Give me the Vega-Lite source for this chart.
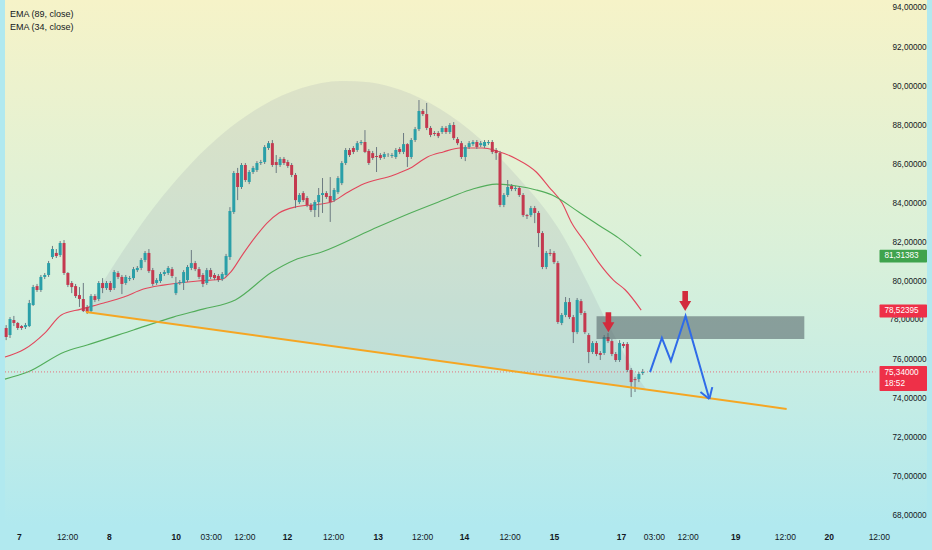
{
  "$schema": "https://vega.github.io/schema/vega-lite/v6.json",
  "width": 932,
  "height": 525,
  "autosize": {"type": "none"},
  "padding": {"left": 0, "top": 0, "right": 0, "bottom": 25},
  "background": "#b1e9ef",
  "view": {"stroke": null},
  "config": {"font": "Liberation Sans, Arial, sans-serif"},
  "datasets": {
    "candles": [
      {"i":0,"o":77.59,"h":77.74,"l":76.97,"c":77.13},{"i":1,"o":77.23,"h":78.15,"l":77.08,"c":78.05},
      {"i":2,"o":78.00,"h":78.21,"l":77.69,"c":77.85},{"i":3,"o":77.85,"h":77.90,"l":77.49,"c":77.59},
      {"i":4,"o":77.69,"h":77.74,"l":77.49,"c":77.59},{"i":5,"o":77.64,"h":77.85,"l":77.54,"c":77.74},
      {"i":6,"o":77.69,"h":79.03,"l":77.64,"c":78.87},{"i":7,"o":78.77,"h":79.80,"l":78.72,"c":79.69},
      {"i":8,"o":79.74,"h":79.85,"l":79.44,"c":79.54},{"i":9,"o":79.54,"h":80.31,"l":79.44,"c":80.21},
      {"i":10,"o":80.21,"h":80.41,"l":80.10,"c":80.31},{"i":11,"o":80.31,"h":81.03,"l":80.21,"c":80.92},
      {"i":12,"o":81.23,"h":81.80,"l":81.13,"c":81.64},{"i":13,"o":81.44,"h":81.64,"l":81.18,"c":81.28},
      {"i":14,"o":81.33,"h":82.05,"l":81.23,"c":81.95},{"i":15,"o":81.95,"h":82.10,"l":80.31,"c":80.41},
      {"i":16,"o":80.41,"h":80.46,"l":79.69,"c":79.80},{"i":17,"o":79.90,"h":80.00,"l":79.38,"c":79.69},
      {"i":18,"o":79.74,"h":79.85,"l":79.13,"c":79.23},{"i":19,"o":79.28,"h":79.69,"l":78.67,"c":79.08},
      {"i":20,"o":79.08,"h":79.90,"l":78.41,"c":78.46},{"i":21,"o":78.67,"h":78.77,"l":78.31,"c":78.41},
      {"i":22,"o":78.46,"h":79.33,"l":78.36,"c":79.23},{"i":23,"o":79.23,"h":79.33,"l":78.92,"c":79.03},
      {"i":24,"o":79.08,"h":80.00,"l":78.97,"c":79.90},{"i":25,"o":79.90,"h":80.15,"l":79.38,"c":79.64},
      {"i":26,"o":79.64,"h":80.00,"l":79.54,"c":79.90},{"i":27,"o":79.90,"h":80.00,"l":79.44,"c":79.54},
      {"i":28,"o":79.64,"h":80.56,"l":79.54,"c":80.46},{"i":29,"o":80.41,"h":80.51,"l":80.10,"c":80.21},
      {"i":30,"o":80.21,"h":80.31,"l":79.33,"c":79.85},{"i":31,"o":79.90,"h":80.31,"l":79.80,"c":80.21},
      {"i":32,"o":80.10,"h":80.26,"l":80.00,"c":80.15},{"i":33,"o":80.15,"h":80.72,"l":80.05,"c":80.61},
      {"i":34,"o":80.56,"h":80.77,"l":80.46,"c":80.67},{"i":35,"o":80.67,"h":81.18,"l":80.56,"c":81.08},
      {"i":36,"o":81.08,"h":81.54,"l":80.97,"c":81.44},{"i":37,"o":81.44,"h":81.64,"l":80.41,"c":80.51},
      {"i":38,"o":80.56,"h":80.67,"l":79.74,"c":79.85},{"i":39,"o":79.90,"h":80.15,"l":79.80,"c":80.05},
      {"i":40,"o":80.00,"h":80.46,"l":79.90,"c":80.36},{"i":41,"o":80.36,"h":80.56,"l":80.26,"c":80.46},
      {"i":42,"o":80.41,"h":80.77,"l":80.31,"c":80.67},{"i":43,"o":80.61,"h":80.72,"l":80.15,"c":80.26},
      {"i":44,"o":79.38,"h":80.21,"l":79.28,"c":79.90},{"i":45,"o":79.90,"h":80.05,"l":79.80,"c":79.95},
      {"i":46,"o":79.90,"h":80.56,"l":79.54,"c":80.46},{"i":47,"o":80.05,"h":80.82,"l":79.95,"c":80.72},
      {"i":48,"o":80.67,"h":81.59,"l":80.56,"c":80.92},{"i":49,"o":80.92,"h":81.03,"l":80.51,"c":80.61},
      {"i":50,"o":80.61,"h":80.72,"l":80.10,"c":80.21},{"i":51,"o":80.31,"h":80.41,"l":79.69,"c":79.85},
      {"i":52,"o":79.90,"h":80.67,"l":79.80,"c":80.56},{"i":53,"o":80.56,"h":80.67,"l":80.10,"c":80.21},
      {"i":54,"o":80.31,"h":80.41,"l":80.05,"c":80.15},{"i":55,"o":80.26,"h":80.36,"l":79.95,"c":80.05},
      {"i":56,"o":80.10,"h":80.46,"l":80.00,"c":80.36},{"i":57,"o":80.31,"h":81.39,"l":80.21,"c":81.28},
      {"i":58,"o":81.23,"h":83.79,"l":81.08,"c":83.59},{"i":59,"o":83.54,"h":85.64,"l":83.44,"c":85.54},
      {"i":60,"o":85.54,"h":85.80,"l":84.15,"c":84.82},{"i":61,"o":84.82,"h":86.05,"l":84.72,"c":85.95},
      {"i":62,"o":85.95,"h":86.05,"l":85.08,"c":85.18},{"i":63,"o":85.08,"h":85.69,"l":84.97,"c":85.59},
      {"i":64,"o":85.59,"h":85.90,"l":85.49,"c":85.80},{"i":65,"o":85.69,"h":86.15,"l":85.59,"c":86.05},
      {"i":66,"o":86.05,"h":86.21,"l":85.95,"c":86.10},{"i":67,"o":86.10,"h":86.97,"l":86.00,"c":86.87},
      {"i":68,"o":86.82,"h":87.18,"l":86.72,"c":87.07},{"i":69,"o":87.07,"h":87.23,"l":85.85,"c":85.95},
      {"i":70,"o":86.10,"h":86.46,"l":85.54,"c":85.95},{"i":71,"o":85.95,"h":86.36,"l":85.85,"c":86.26},
      {"i":72,"o":86.26,"h":86.36,"l":85.95,"c":86.05},{"i":73,"o":86.10,"h":86.21,"l":85.80,"c":85.90},
      {"i":74,"o":85.95,"h":86.05,"l":85.33,"c":85.44},{"i":75,"o":85.44,"h":85.54,"l":83.74,"c":84.15},
      {"i":76,"o":84.05,"h":84.51,"l":83.95,"c":84.41},{"i":77,"o":84.51,"h":84.61,"l":84.05,"c":84.15},
      {"i":78,"o":84.26,"h":84.36,"l":83.79,"c":83.90},{"i":79,"o":83.90,"h":84.00,"l":83.54,"c":83.64},
      {"i":80,"o":83.64,"h":84.15,"l":83.28,"c":84.05},{"i":81,"o":84.05,"h":84.77,"l":83.28,"c":84.41},
      {"i":82,"o":84.41,"h":85.28,"l":83.49,"c":84.51},{"i":83,"o":84.51,"h":84.61,"l":84.21,"c":84.31},
      {"i":84,"o":84.36,"h":85.33,"l":83.03,"c":84.05},{"i":85,"o":84.15,"h":84.77,"l":84.05,"c":84.67},
      {"i":86,"o":84.56,"h":85.38,"l":84.46,"c":85.28},{"i":87,"o":85.02,"h":86.15,"l":84.92,"c":86.05},
      {"i":88,"o":86.05,"h":86.82,"l":85.95,"c":86.72},{"i":89,"o":86.72,"h":86.82,"l":86.36,"c":86.46},
      {"i":90,"o":86.82,"h":86.92,"l":86.51,"c":86.62},{"i":91,"o":86.72,"h":87.18,"l":86.62,"c":87.07},
      {"i":92,"o":87.07,"h":87.23,"l":86.97,"c":87.13},{"i":93,"o":87.13,"h":87.74,"l":86.56,"c":86.62},
      {"i":94,"o":86.67,"h":86.77,"l":85.95,"c":86.05},{"i":95,"o":86.56,"h":86.67,"l":86.21,"c":86.31},
      {"i":96,"o":86.41,"h":86.87,"l":85.59,"c":86.36},{"i":97,"o":86.46,"h":86.56,"l":86.21,"c":86.31},
      {"i":98,"o":86.36,"h":86.62,"l":86.26,"c":86.51},{"i":99,"o":86.46,"h":86.56,"l":86.36,"c":86.47},
      {"i":100,"o":86.41,"h":86.56,"l":86.31,"c":86.46},{"i":101,"o":86.36,"h":86.82,"l":86.26,"c":86.72},
      {"i":102,"o":86.77,"h":86.87,"l":86.51,"c":86.62},{"i":103,"o":86.62,"h":87.59,"l":86.51,"c":87.02},
      {"i":104,"o":87.02,"h":87.07,"l":85.85,"c":86.36},{"i":105,"o":86.36,"h":87.33,"l":86.26,"c":87.23},
      {"i":106,"o":87.23,"h":87.90,"l":87.13,"c":87.79},{"i":107,"o":87.79,"h":89.28,"l":87.69,"c":88.72},
      {"i":108,"o":88.72,"h":88.82,"l":88.46,"c":88.56},{"i":109,"o":88.56,"h":89.13,"l":87.74,"c":87.85},
      {"i":110,"o":87.85,"h":87.95,"l":87.38,"c":87.49},{"i":111,"o":87.59,"h":87.69,"l":87.44,"c":87.54},
      {"i":112,"o":87.59,"h":87.69,"l":87.33,"c":87.43},{"i":113,"o":87.64,"h":87.95,"l":87.54,"c":87.85},
      {"i":114,"o":87.85,"h":87.95,"l":87.54,"c":87.64},{"i":115,"o":87.64,"h":88.10,"l":87.54,"c":88.00},
      {"i":116,"o":88.00,"h":88.15,"l":87.23,"c":87.33},{"i":117,"o":87.28,"h":87.38,"l":86.97,"c":87.07},
      {"i":118,"o":87.07,"h":87.18,"l":86.26,"c":86.36},{"i":119,"o":86.36,"h":86.97,"l":86.15,"c":86.87},
      {"i":120,"o":86.87,"h":87.18,"l":86.77,"c":87.07},{"i":121,"o":87.02,"h":87.23,"l":86.92,"c":87.13},
      {"i":122,"o":87.13,"h":87.23,"l":86.77,"c":86.87},{"i":123,"o":86.97,"h":87.18,"l":86.87,"c":87.07},
      {"i":124,"o":86.92,"h":87.23,"l":86.82,"c":87.13},{"i":125,"o":87.07,"h":87.23,"l":86.97,"c":87.13},
      {"i":126,"o":87.13,"h":87.23,"l":86.51,"c":86.62},{"i":127,"o":86.72,"h":86.82,"l":86.21,"c":86.56},
      {"i":128,"o":86.56,"h":86.67,"l":83.79,"c":83.90},{"i":129,"o":83.90,"h":84.51,"l":83.79,"c":84.41},
      {"i":130,"o":84.41,"h":85.18,"l":84.31,"c":84.82},{"i":131,"o":84.87,"h":84.97,"l":84.61,"c":84.72},
      {"i":132,"o":84.72,"h":84.87,"l":84.61,"c":84.77},{"i":133,"o":84.77,"h":84.87,"l":84.31,"c":84.41},
      {"i":134,"o":84.41,"h":84.51,"l":83.28,"c":83.38},{"i":135,"o":83.38,"h":83.44,"l":83.18,"c":83.33},
      {"i":136,"o":83.38,"h":83.85,"l":83.28,"c":83.74},{"i":137,"o":83.74,"h":83.85,"l":82.97,"c":83.49},
      {"i":138,"o":83.49,"h":83.59,"l":81.74,"c":82.46},{"i":139,"o":82.46,"h":82.56,"l":80.61,"c":80.72},
      {"i":140,"o":80.72,"h":81.54,"l":80.61,"c":81.44},{"i":141,"o":81.44,"h":81.64,"l":81.28,"c":81.39},
      {"i":142,"o":81.44,"h":81.54,"l":80.87,"c":80.97},{"i":143,"o":80.92,"h":81.03,"l":77.80,"c":77.90},
      {"i":144,"o":77.85,"h":78.36,"l":77.74,"c":78.26},{"i":145,"o":78.26,"h":79.18,"l":78.15,"c":78.92},
      {"i":146,"o":78.92,"h":79.13,"l":78.05,"c":78.15},{"i":147,"o":78.15,"h":78.26,"l":76.82,"c":77.38},
      {"i":148,"o":77.38,"h":79.13,"l":77.28,"c":79.03},{"i":149,"o":78.97,"h":79.08,"l":78.26,"c":78.36},
      {"i":150,"o":78.36,"h":78.46,"l":77.28,"c":77.38},{"i":151,"o":77.23,"h":77.33,"l":75.79,"c":76.36},
      {"i":152,"o":76.36,"h":76.92,"l":76.26,"c":76.82},{"i":153,"o":76.82,"h":76.92,"l":76.15,"c":76.26},
      {"i":154,"o":76.31,"h":76.41,"l":75.95,"c":76.21},{"i":155,"o":76.31,"h":77.23,"l":76.21,"c":77.13},
      {"i":156,"o":77.13,"h":77.33,"l":76.82,"c":76.92},{"i":157,"o":76.92,"h":77.02,"l":76.15,"c":76.26},
      {"i":158,"o":76.26,"h":76.36,"l":75.85,"c":75.95},{"i":159,"o":75.95,"h":76.97,"l":75.85,"c":76.82},
      {"i":160,"o":76.77,"h":76.87,"l":76.56,"c":76.67},{"i":161,"o":76.77,"h":76.87,"l":75.33,"c":75.44},
      {"i":162,"o":75.44,"h":75.54,"l":74.05,"c":74.82},{"i":163,"o":74.97,"h":75.08,"l":74.31,"c":74.92},
      {"i":164,"o":74.97,"h":75.33,"l":74.82,"c":75.23},{"i":165,"o":75.28,"h":75.49,"l":75.18,"c":75.34}
    ],
    "ema": [
      {"s":"34","i":-0.3,"p":76.10},{"s":"34","i":4.8,"p":76.51},{"s":"34","i":10.0,"p":77.33},
      {"s":"34","i":14.3,"p":78.26},{"s":"34","i":19.4,"p":78.56},{"s":"34","i":25.3,"p":78.87},
      {"s":"34","i":30.5,"p":79.18},{"s":"34","i":35.6,"p":79.59},{"s":"34","i":40.7,"p":79.79},
      {"s":"34","i":49.7,"p":80.00},{"s":"34","i":56.1,"p":80.10},{"s":"34","i":58.2,"p":80.46},
      {"s":"34","i":61.2,"p":81.33},{"s":"34","i":64.6,"p":82.26},{"s":"34","i":67.6,"p":82.97},
      {"s":"34","i":70.7,"p":83.49},{"s":"34","i":74.8,"p":83.79},{"s":"34","i":81.8,"p":83.95},
      {"s":"34","i":84.3,"p":84.05},{"s":"34","i":88.2,"p":84.51},{"s":"34","i":92.0,"p":84.92},
      {"s":"34","i":100.5,"p":85.44},{"s":"34","i":104.8,"p":85.79},{"s":"34","i":109.2,"p":86.36},
      {"s":"34","i":113.3,"p":86.62},{"s":"34","i":117.6,"p":86.82},{"s":"34","i":123.5,"p":86.82},
      {"s":"34","i":127.1,"p":86.67},{"s":"34","i":132.3,"p":86.26},{"s":"34","i":137.4,"p":85.59},
      {"s":"34","i":140.7,"p":84.82},{"s":"34","i":144.1,"p":84.00},{"s":"34","i":146.6,"p":82.97},
      {"s":"34","i":150.2,"p":81.95},{"s":"34","i":153.5,"p":80.97},{"s":"34","i":157.4,"p":80.05},
      {"s":"34","i":160.5,"p":79.54},{"s":"34","i":164.6,"p":78.51},
      {"s":"89","i":-0.3,"p":74.97},{"s":"89","i":5.6,"p":75.33},{"s":"89","i":15.1,"p":76.36},
      {"s":"89","i":21.0,"p":76.72},{"s":"89","i":33.0,"p":77.49},{"s":"89","i":43.3,"p":78.15},
      {"s":"89","i":51.0,"p":78.56},{"s":"89","i":59.4,"p":79.03},{"s":"89","i":68.9,"p":80.46},
      {"s":"89","i":74.8,"p":81.08},{"s":"89","i":81.8,"p":81.49},{"s":"89","i":94.6,"p":82.62},
      {"s":"89","i":104.8,"p":83.49},{"s":"89","i":113.3,"p":84.15},{"s":"89","i":120.2,"p":84.67},
      {"s":"89","i":127.1,"p":84.97},{"s":"89","i":132.3,"p":84.87},{"s":"89","i":137.4,"p":84.67},
      {"s":"89","i":141.5,"p":84.41},{"s":"89","i":148.4,"p":83.54},{"s":"89","i":153.5,"p":82.87},
      {"s":"89","i":158.7,"p":82.21},{"s":"89","i":164.6,"p":81.28}
    ],
    "arc": [
      {"i":20.7,"top":78.41,"bot":78.41},{"i":25.3,"top":80.00,"bot":78.28},{"i":30.5,"top":81.60,"bot":78.14},
      {"i":35.6,"top":83.06,"bot":78.00},{"i":40.7,"top":84.38,"bot":77.86},{"i":48.4,"top":86.12,"bot":77.65},
      {"i":56.1,"top":87.55,"bot":77.44},{"i":66.4,"top":88.99,"bot":77.16},{"i":76.6,"top":89.90,"bot":76.88},
      {"i":86.9,"top":90.26,"bot":76.60},{"i":94.1,"top":90.19,"bot":76.40},{"i":102.3,"top":89.79,"bot":76.17},
      {"i":112.5,"top":88.82,"bot":75.90},{"i":122.8,"top":87.30,"bot":75.61},{"i":133.0,"top":85.25,"bot":75.33},
      {"i":143.3,"top":82.65,"bot":75.05},{"i":151.0,"top":79.79,"bot":74.84},{"i":154.8,"top":78.26,"bot":74.73},
      {"i":158.7,"top":76.82,"bot":74.63},{"i":162.5,"top":75.44,"bot":74.52},{"i":165.9,"top":74.45,"bot":74.43}
    ],
    "path": [
      {"seg":"a","k":0,"i":166.9,"p":75.33},{"seg":"a","k":1,"i":169.96,"p":77.08},
      {"seg":"a","k":2,"i":172.3,"p":75.90},{"seg":"a","k":3,"i":176.1,"p":78.21},
      {"seg":"a","k":4,"i":182.26,"p":73.95},
      {"seg":"b","k":0,"i":179.96,"p":74.31},{"seg":"b","k":1,"i":182.26,"p":73.95},
      {"seg":"c","k":0,"i":183.03,"p":74.56},{"seg":"c","k":1,"i":182.26,"p":73.95}
    ]
  },
  "layer": [
    {
      "data": {"values": [{}]},
      "mark": {"type": "rect", "fill": {"gradient": "linear", "x1": 0, "y1": 0, "x2": 0, "y2": 1,
        "stops": [{"offset": 0, "color": "#f6f3c8"}, {"offset": 0.5, "color": "#d8f0da"}, {"offset": 1, "color": "#b1e9ef"}]}},
      "encoding": {
        "x": {"datum": -0.3, "type": "quantitative", "scale": {"domain": [-0.3, 238.68], "nice": false, "zero": false},
          "axis": {"orient": "bottom", "title": null, "grid": false, "domain": false, "ticks": false, "zindex": 1,
            "values": [3.29, 15.78, 26.62, 43.98, 53.03, 61.75, 72.78, 84.75, 96.29, 107.83, 118.67, 130.47, 142.01, 159.37, 167.91, 176.62, 189, 201.83, 213.21, 226.18],
            "labelExpr": "['7','12:00','8','10','03:00','12:00','12','12:00','13','12:00','14','12:00','15','17','03:00','12:00','19','12:00','20','12:00'][indexof([3.29,15.78,26.62,43.98,53.03,61.75,72.78,84.75,96.29,107.83,118.67,130.47,142.01,159.37,167.91,176.62,189,201.83,213.21,226.18], datum.value)]",
            "labelFontWeight": {"condition": {"test": "indexof([3.29,26.62,43.98,72.78,96.29,118.67,142.01,159.37,189,213.21], datum.value) >= 0", "value": "bold"}, "value": "normal"},
            "labelFontSize": 8.5, "labelColor": "#131722", "labelPadding": 7, "labelFlush": false, "labelOverlap": false}},
        "x2": {"datum": 238.68},
        "y": {"datum": 94.41, "type": "quantitative", "scale": {"domain": [67.49, 94.41], "nice": false, "zero": false},
          "axis": {"orient": "right", "offset": -52, "title": null, "grid": false, "domain": false, "ticks": false, "zindex": 1,
            "values": [68, 70, 72, 74, 76, 80, 82, 84, 86, 88, 90, 92, 94],
            "labelExpr": "replace(format(datum.value, '.5f'), '.', ',')",
            "labelAlign": "left", "labelPadding": 12, "labelFontSize": 8.2, "labelColor": "#131722", "labelOverlap": false, "labelBound": false}},
        "y2": {"datum": 67.49}
      }
    },
    {
      "data": {"name": "arc"},
      "mark": {"type": "area", "fill": "#8c97a8", "opacity": 0.17, "interpolate": "monotone"},
      "encoding": {
        "x": {"field": "i", "type": "quantitative", "scale": {"domain": [-0.3, 238.68], "nice": false, "zero": false}},
        "y": {"field": "top", "type": "quantitative", "scale": {"domain": [67.49, 94.41], "nice": false, "zero": false}},
        "y2": {"field": "bot"}
      }
    },
    {
      "data": {"name": "ema"},
      "mark": {"type": "line", "strokeWidth": 1.1, "interpolate": "monotone"},
      "encoding": {
        "x": {"field": "i", "type": "quantitative", "scale": {"domain": [-0.3, 238.68], "nice": false, "zero": false}},
        "y": {"field": "p", "type": "quantitative", "scale": {"domain": [67.49, 94.41], "nice": false, "zero": false}},
        "color": {"field": "s", "type": "nominal", "scale": {"domain": ["34", "89"], "range": ["#e2475c", "#52ad5a"]}, "legend": null}
      }
    },
    {
      "data": {"values": [{}]},
      "mark": {"type": "rule", "color": "#e5707d", "strokeDash": [1, 2], "strokeWidth": 1},
      "encoding": {
        "x": {"datum": -0.3, "type": "quantitative", "scale": {"domain": [-0.3, 238.68], "nice": false, "zero": false}},
        "x2": {"datum": 225.3},
        "y": {"datum": 75.34, "type": "quantitative", "scale": {"domain": [67.49, 94.41], "nice": false, "zero": false}}
      }
    },
    {
      "data": {"name": "candles"},
      "mark": {"type": "rule", "color": "#6c7a82", "strokeWidth": 1},
      "encoding": {
        "x": {"field": "i", "type": "quantitative", "scale": {"domain": [-0.3, 238.68], "nice": false, "zero": false}},
        "y": {"field": "l", "type": "quantitative", "scale": {"domain": [67.49, 94.41], "nice": false, "zero": false}},
        "y2": {"field": "h"}
      }
    },
    {
      "data": {"name": "candles"},
      "mark": {"type": "bar", "size": 3},
      "encoding": {
        "x": {"field": "i", "type": "quantitative", "scale": {"domain": [-0.3, 238.68], "nice": false, "zero": false}},
        "y": {"field": "o", "type": "quantitative", "scale": {"domain": [67.49, 94.41], "nice": false, "zero": false}},
        "y2": {"field": "c"},
        "color": {"condition": {"test": "datum.c >= datum.o", "value": "#2a9fa8"}, "value": "#c4394f"}
      }
    },
    {
      "data": {"values": [{"i": 20.7, "p": 78.41}, {"i": 202.3, "p": 73.44}]},
      "mark": {"type": "line", "color": "#f5a623", "strokeWidth": 2},
      "encoding": {
        "x": {"field": "i", "type": "quantitative", "scale": {"domain": [-0.3, 238.68], "nice": false, "zero": false}},
        "y": {"field": "p", "type": "quantitative", "scale": {"domain": [67.49, 94.41], "nice": false, "zero": false}}
      }
    },
    {
      "data": {"values": [{}]},
      "mark": {"type": "rect", "fill": "#4f5d63", "opacity": 0.55},
      "encoding": {
        "x": {"datum": 153.03, "type": "quantitative", "scale": {"domain": [-0.3, 238.68], "nice": false, "zero": false}},
        "x2": {"datum": 206.88},
        "y": {"datum": 78.2, "type": "quantitative", "scale": {"domain": [67.49, 94.41], "nice": false, "zero": false}},
        "y2": {"datum": 77.03}
      }
    },
    {
      "data": {"name": "path"},
      "mark": {"type": "line", "color": "#2f6be8", "strokeWidth": 2},
      "encoding": {
        "x": {"field": "i", "type": "quantitative", "scale": {"domain": [-0.3, 238.68], "nice": false, "zero": false}},
        "y": {"field": "p", "type": "quantitative", "scale": {"domain": [67.49, 94.41], "nice": false, "zero": false}},
        "detail": {"field": "seg"},
        "order": {"field": "k", "type": "quantitative"}
      }
    },
    {
      "data": {"values": [{"i": 156.1, "p": 77.88}, {"i": 176.0, "p": 78.97}]},
      "mark": {"type": "point", "filled": true, "opacity": 1, "color": "#d22b3d", "size": 400,
        "shape": "M-0.28,-1 L0.28,-1 L0.28,0 L0.6,0 L0,1 L-0.6,0 L-0.28,0 Z"},
      "encoding": {
        "x": {"field": "i", "type": "quantitative", "scale": {"domain": [-0.3, 238.68], "nice": false, "zero": false}},
        "y": {"field": "p", "type": "quantitative", "scale": {"domain": [67.49, 94.41], "nice": false, "zero": false}}
      }
    },
    {
      "data": {"values": [{}]},
      "mark": {"type": "text", "text": "EMA (89, close)", "align": "left", "baseline": "middle", "fontSize": 9, "color": "#131722"},
      "encoding": {
        "x": {"datum": 1.0, "type": "quantitative", "scale": {"domain": [-0.3, 238.68], "nice": false, "zero": false}},
        "y": {"datum": 93.68, "type": "quantitative", "scale": {"domain": [67.49, 94.41], "nice": false, "zero": false}}
      }
    },
    {
      "data": {"values": [{}]},
      "mark": {"type": "text", "text": "EMA (34, close)", "align": "left", "baseline": "middle", "fontSize": 9, "color": "#131722"},
      "encoding": {
        "x": {"datum": 1.0, "type": "quantitative", "scale": {"domain": [-0.3, 238.68], "nice": false, "zero": false}},
        "y": {"datum": 93.01, "type": "quantitative", "scale": {"domain": [67.49, 94.41], "nice": false, "zero": false}}
      }
    },
    {
      "data": {"values": [{}]},
      "mark": {"type": "text", "text": "78,00000", "align": "left", "baseline": "middle", "fontSize": 8.2, "color": "#131722"},
      "encoding": {
        "x": {"datum": 228.96, "type": "quantitative", "scale": {"domain": [-0.3, 238.68], "nice": false, "zero": false}},
        "y": {"datum": 78.0, "type": "quantitative", "scale": {"domain": [67.49, 94.41], "nice": false, "zero": false}}
      }
    },
    {
      "data": {"values": [{"k": "g", "top": 81.61, "bot": 80.95}, {"k": "r", "top": 78.8, "bot": 78.13}, {"k": "r", "top": 75.64, "bot": 74.36}]},
      "mark": {"type": "rect", "cornerRadius": 1},
      "encoding": {
        "x": {"datum": 226.37, "type": "quantitative", "scale": {"domain": [-0.3, 238.68], "nice": false, "zero": false}},
        "x2": {"datum": 238.68},
        "y": {"field": "top", "type": "quantitative", "scale": {"domain": [67.49, 94.41], "nice": false, "zero": false}},
        "y2": {"field": "bot"},
        "color": {"condition": {"test": "datum.k === 'g'", "value": "#3fa34d"}, "value": "#ee3048"}
      }
    },
    {
      "data": {"values": [{"t": "81,31383", "p": 81.28}, {"t": "78,52395", "p": 78.46}, {"t": "75,34000", "p": 75.3}, {"t": "18:52", "p": 74.7}]},
      "mark": {"type": "text", "align": "left", "baseline": "middle", "fontSize": 8.2, "color": "#ffffff"},
      "encoding": {
        "x": {"datum": 227.65, "type": "quantitative", "scale": {"domain": [-0.3, 238.68], "nice": false, "zero": false}},
        "y": {"field": "p", "type": "quantitative", "scale": {"domain": [67.49, 94.41], "nice": false, "zero": false}},
        "text": {"field": "t"}
      }
    }
  ]
}
